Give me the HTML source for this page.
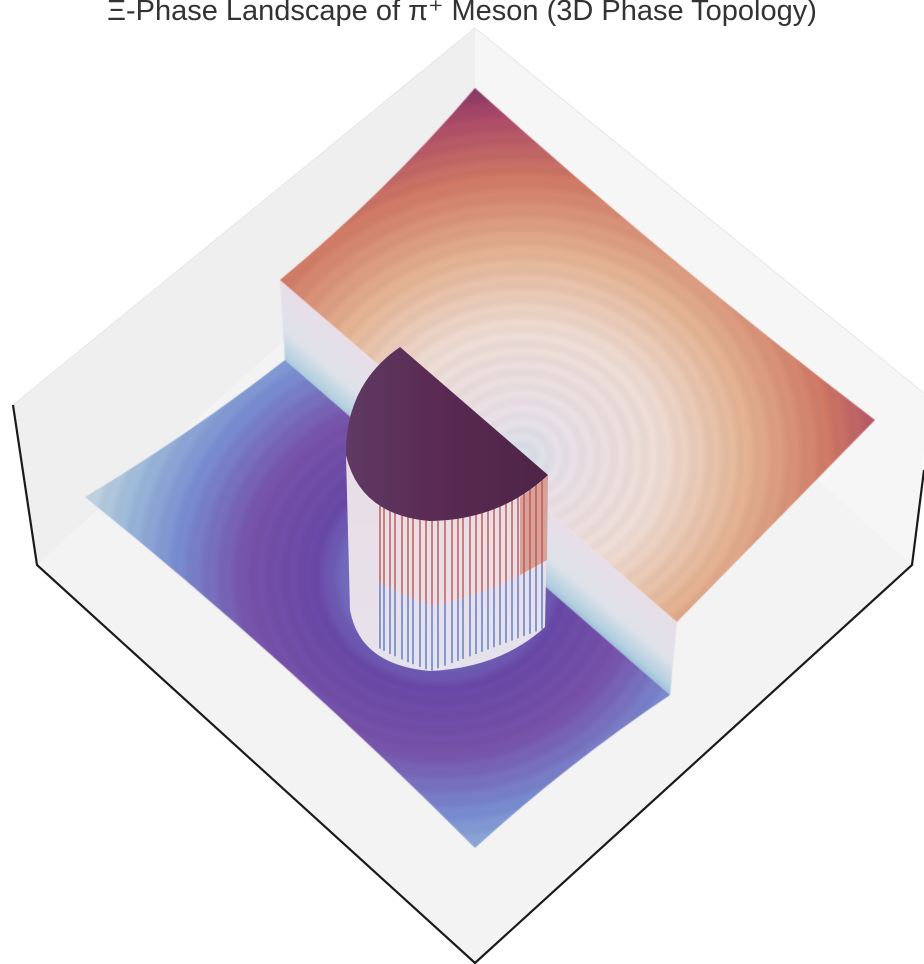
<!DOCTYPE html>
<html><head><meta charset="utf-8"><style>
html,body{margin:0;padding:0;background:#fff;}
#wrap{position:relative;width:924px;height:964px;overflow:hidden;}
svg,canvas{position:absolute;left:0;top:0;}
#title{position:absolute;left:0;width:924px;top:-7px;text-align:center;font-family:"Liberation Sans",sans-serif;font-size:29px;color:#333;}
</style></head><body>
<div id="wrap">
<svg width="924" height="964">
<polygon points="13,405 475,28 475,167 37,565" fill="#efefef"/>
<polygon points="475,28 930,398 912,565 475,167" fill="#f6f6f6"/>
<polygon points="37,565 475,167 912,565 475,963" fill="#f3f3f3"/>
<polyline points="13,405 475,28 930,398" fill="none" stroke="#e6e6e6" stroke-width="1"/>
</svg>
<canvas id="cv" width="924" height="964"></canvas>
<svg width="924" height="964">
<defs>
<linearGradient id="bodyg" x1="0" y1="0" x2="0" y2="1">
<stop offset="0" stop-color="#e9dde4"/><stop offset="1" stop-color="#e6e2ec"/></linearGradient>
<linearGradient id="topg" x1="0" y1="0" x2="1" y2="0">
<stop offset="0" stop-color="#5e3a64"/><stop offset="0.45" stop-color="#5a2a52"/><stop offset="1" stop-color="#4e2448"/></linearGradient>
</defs>
<path d="M346,455 Q360,515 430,521 Q500,520 548,475 L545,627 Q500,668 430,671 Q360,665 350,610 Z" fill="url(#bodyg)"/>
<path d="M520,497 Q535,488 548,475 L547,560 L520,575 Z" fill="#c8705f" opacity="0.55"/>
<g id="stripes"></g>
<path d="M400,347 L548,475 Q500,520 430,521 Q360,515 346,455 Q345,385 400,347 Z" fill="url(#topg)"/>
<polyline points="13,405 37,565 475,963 912,565 924,470" fill="none" stroke="#1a1a1a" stroke-width="2.2"/>
</svg>
<div id="title">Ξ-Phase Landscape of π⁺ Meson (3D Phase Topology)</div>
</div>
<script>
// colormap stops (radius -> color) for each sheet
const upperR = [0, 0.15, 0.5, 0.8, 1.1, 1.35, 1.55];
const upperC = [[212,222,228],[230,222,230],[236,218,210],[226,178,146],[206,120,100],[168,72,104],[104,44,92]];
const lowerR = [0, 0.2, 0.45, 0.7, 0.95, 1.15, 1.35];
const lowerC = [[196,214,224],[124,150,214],[104,72,166],[118,82,168],[120,140,208],[156,184,216],[204,220,224]];
// sheet outlines (screen corners + edge control points)
const upperPath = [[280,280],[386,192],[475,88],[668,262],[875,420],[776,521],[677,622]];
const lowerPath = [[285,360],[190,434],[85,497],[290,662],[475,848],[567,764],[670,695]];
const wallPoly = [[280,280],[677,622],[670,695],[285,360]];

function cmap(r, R, C){
  if(r<=R[0]) return C[0];
  for(let i=1;i<R.length;i++){ if(r<=R[i]){const t=(r-R[i-1])/(R[i]-R[i-1]);return C[i-1].map((c,k)=>c+(C[i][k]-c)*t);} }
  return C[C.length-1];
}
const cv=document.getElementById('cv'),ctx=cv.getContext('2d');
const W=924,H=964;
function sheet(cx,cy,R,C){
  const off=document.createElement('canvas');off.width=W;off.height=H;
  const o=off.getContext('2d');const img=o.createImageData(W,H);const d=img.data;
  for(let y=0;y<H;y++)for(let x=0;x<W;x++){
    const dx=x-cx,dy=y-cy;const s=dx/197,t=-dy/179;
    const u=(s+t)/2,v=(t-s)/2;const r=Math.sqrt(u*u+v*v);
    const c=cmap(r,R,C);const m=1+0.015*Math.sin(r*110);
    const i=(y*W+x)*4;d[i]=c[0]*m;d[i+1]=c[1]*m;d[i+2]=c[2]*m;d[i+3]=255;}
  o.putImageData(img,0,0);return off;
}
function clipDraw(P,src){
  ctx.save();ctx.beginPath();ctx.moveTo(P[0][0],P[0][1]);
  ctx.quadraticCurveTo(P[1][0],P[1][1],P[2][0],P[2][1]);
  ctx.quadraticCurveTo(P[3][0],P[3][1],P[4][0],P[4][1]);
  ctx.quadraticCurveTo(P[5][0],P[5][1],P[6][0],P[6][1]);
  ctx.closePath();ctx.clip();
  ctx.drawImage(src,0,0);ctx.restore();
}
// wall (gradient perpendicular to the cut line)
ctx.save();ctx.beginPath();wallPoly.forEach((p,i)=>i?ctx.lineTo(p[0],p[1]):ctx.moveTo(p[0],p[1]));ctx.closePath();
const g=ctx.createLinearGradient(280,280,238,329);
g.addColorStop(0,'#e8dee8');g.addColorStop(0.55,'#dfe2ea');g.addColorStop(0.85,'#b4d0e0');g.addColorStop(1,'#8fb8d8');
ctx.fillStyle=g;ctx.fill();ctx.restore();
clipDraw(lowerPath,sheet(440,575,lowerR,lowerC));
clipDraw(upperPath,sheet(522,455,upperR,upperC));
// cylinder stripes
const sg=document.getElementById('stripes');
const NS='http://www.w3.org/2000/svg';
const stripeX=[380,384,390,395,402,408,413,420,426,432,438,445,452,458,463,470,476,482,488,494,500,506,512,518,524,530,536,542];
stripeX.forEach(x=>{
  const t=(x-346)/(548-346);
  const top=t<0.42? 455+66*Math.sqrt(t/0.42) : 521-46*((t-0.42)/0.58)*((t-0.42)/0.58);
  const bot=t<0.42? 610+61*Math.sqrt(t/0.42) : 671-44*((t-0.42)/0.58);
  const mid=(top+bot)/2+10;
  const l1=document.createElementNS(NS,'line');
  
  
  l1.setAttribute('x1',x);l1.setAttribute('x2',x);l1.setAttribute('y1',top);l1.setAttribute('y2',mid);
  l1.setAttribute('stroke','#c0554e');l1.setAttribute('stroke-width','1.4');sg.appendChild(l1);
  const l2=document.createElementNS(NS,'line');
  
  
  l2.setAttribute('x1',x);l2.setAttribute('x2',x);l2.setAttribute('y1',mid);l2.setAttribute('y2',bot);
  l2.setAttribute('stroke','#5a78c8');l2.setAttribute('stroke-width','1.4');sg.appendChild(l2);
});
</script>
</body></html>
